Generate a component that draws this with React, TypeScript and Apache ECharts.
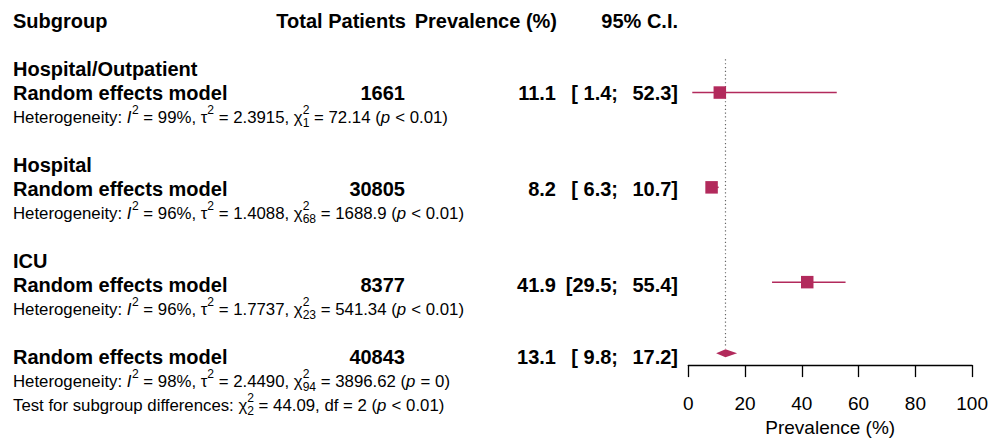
import React, { useEffect, useRef } from 'react';
import * as echarts from 'echarts';

// Subgroup meta-analysis results (random effects)
const subgroupNames = ['Hospital/Outpatient', 'Hospital', 'ICU'];
const subgroupTotals = [1661, 30805, 8377];
const subgroupPrev = [11.1, 8.2, 41.9];
const subgroupLower = [1.4, 6.3, 29.5];
const subgroupUpper = [52.3, 10.7, 55.4];
const subgroupI2 = ['99%', '96%', '96%'];
const subgroupTau2 = ['2.3915', '1.4088', '1.7737'];
const subgroupDf = ['1', '68', '23'];
const subgroupQ = ['72.14', '1688.9', '541.34'];
const subgroupP = ['< 0.01', '< 0.01', '< 0.01'];

// Pooled estimate
const overallTotal = 40843;
const overallPrev = 13.1;
const overallLower = 9.8;
const overallUpper = 17.2;
const overallI2 = '98%';
const overallTau2 = '2.4490';
const overallDf = '94';
const overallQ = '3896.62';
const overallP = '= 0';

// Test for subgroup differences
const testDf = '2';
const testQ = '44.09';
const testP = '< 0.01';

const xTicks = [0, 20, 40, 60, 80, 100];

const MARK = '#B22A5C';
const FONT = '"Liberation Sans", Arial, Helvetica, sans-serif';
const BOLD = 20;
const NORM = 16.8;
const LEFT = 13;
const lineY = (k: number) => 21 + 24 * k;

let measureCtx: CanvasRenderingContext2D | null = null;
function measure(text: string, size: number, weight = 'normal', style = 'normal') {
  if (!measureCtx) measureCtx = document.createElement('canvas').getContext('2d');
  measureCtx!.font = `${style} ${weight} ${size}px ${FONT}`;
  return measureCtx!.measureText(text).width;
}

type Seg = string | { it: string } | { sup: string; sub?: string };

function txt(text: string, x: number, y: number, opts: any = {}) {
  return {
    type: 'text',
    x,
    y,
    silent: true,
    style: {
      text,
      fontFamily: FONT,
      fontSize: opts.size ?? NORM,
      fontWeight: opts.weight ?? 'normal',
      fontStyle: opts.style ?? 'normal',
      fill: '#000',
      align: opts.align ?? 'left',
      verticalAlign: 'middle',
    },
  };
}

// Lays out a line of mixed text with italic symbols and super/subscripts
function formula(segs: Seg[], x0: number, y: number) {
  const out: any[] = [];
  let x = x0;
  const small = NORM * 0.72;
  for (const s of segs) {
    if (typeof s === 'string') {
      out.push(txt(s, x, y));
      x += measure(s, NORM);
    } else if ('it' in s) {
      out.push(txt(s.it, x, y, { style: 'italic' }));
      x += measure(s.it, NORM, 'normal', 'italic') + 0.5;
    } else {
      let w = 0;
      out.push(txt(s.sup, x, y - NORM * 0.44, { size: small }));
      w = measure(s.sup, small);
      if (s.sub) {
        out.push(txt(s.sub, x, y + NORM * 0.36, { size: small }));
        w = Math.max(w, measure(s.sub, small));
      }
      x += w;
    }
  }
  return out;
}

function hetSegs(i2: string, tau2: string, df: string, q: string, p: string): Seg[] {
  return [
    'Heterogeneity: ',
    { it: 'I' },
    { sup: '2' },
    ` = ${i2}, τ`,
    { sup: '2' },
    ` = ${tau2}, χ`,
    { sup: '2', sub: df },
    ` = ${q} (`,
    { it: 'p' },
    ` ${p})`,
  ];
}

const TOTAL_X = 405;
const PREV_X = 556;
const LO_X = 618;
const HI_X = 678;

function ciLowText(v: number) {
  return v < 10 ? `[ ${v.toFixed(1)};` : `[${v.toFixed(1)};`;
}

function buildGraphics() {
  const g: any[] = [];
  const b = { size: BOLD, weight: 'bold' };
  const y0 = lineY(0);
  g.push(txt('Subgroup', LEFT, y0, b));
  g.push(txt('Total Patients', TOTAL_X + 1, y0, { ...b, align: 'right' }));
  g.push(txt('Prevalence (%)', PREV_X + 1, y0, { ...b, align: 'right' }));
  g.push(txt('95% C.I.', HI_X, y0, { ...b, align: 'right' }));

  const rowLines = (k: number, total: number, prev: number, lo: number, hi: number) => {
    const y = lineY(k);
    g.push(txt('Random effects model', LEFT, y, b));
    g.push(txt(String(total), TOTAL_X, y, { ...b, align: 'right' }));
    g.push(txt(prev.toFixed(1), PREV_X, y, { ...b, align: 'right' }));
    g.push(txt(ciLowText(lo), LO_X, y, { ...b, align: 'right' }));
    g.push(txt(`${hi.toFixed(1)}]`, HI_X, y, { ...b, align: 'right' }));
  };

  subgroupNames.forEach((name, i) => {
    const k = 2 + 4 * i;
    g.push(txt(name, LEFT, lineY(k), b));
    rowLines(k + 1, subgroupTotals[i], subgroupPrev[i], subgroupLower[i], subgroupUpper[i]);
    g.push(
      ...formula(
        hetSegs(subgroupI2[i], subgroupTau2[i], subgroupDf[i], subgroupQ[i], subgroupP[i]),
        LEFT,
        lineY(k + 2)
      )
    );
  });

  rowLines(14, overallTotal, overallPrev, overallLower, overallUpper);
  g.push(...formula(hetSegs(overallI2, overallTau2, overallDf, overallQ, overallP), LEFT, lineY(15)));
  g.push(
    ...formula(
      [
        'Test for subgroup differences: χ',
        { sup: '2', sub: testDf },
        ` = ${testQ}, df = ${testDf} (`,
        { it: 'p' },
        ` ${testP})`,
      ],
      LEFT,
      lineY(16)
    )
  );
  return g;
}

export default function App() {
  const ref = useRef<HTMLDivElement>(null);

  useEffect(() => {
    if (!ref.current) return;
    const chart = echarts.init(ref.current, undefined, { renderer: 'svg' });

    const subgroupData = subgroupPrev.map((v, i) => [v, subgroupLower[i], subgroupUpper[i], 3 + 4 * i]);

    chart.setOption({
      animation: false,
      backgroundColor: '#fff',
      grid: { left: 688.3, right: 18.3, top: lineY(1.5), bottom: 442 - lineY(14.5), containLabel: false },
      xAxis: {
        type: 'value',
        min: 0,
        max: 100,
        interval: 20,
        name: 'Prevalence (%)',
        nameLocation: 'middle',
        nameGap: 49,
        nameTextStyle: { fontFamily: FONT, fontSize: 19, color: '#000' },
        axisLine: { show: true, lineStyle: { color: '#000', width: 1.3 } },
        axisTick: { show: true, length: 12, lineStyle: { color: '#000', width: 1.3 } },
        axisLabel: { fontFamily: FONT, fontSize: 19, color: '#000', margin: 29 },
        splitLine: { show: false },
        data: xTicks,
      },
      yAxis: {
        type: 'value',
        min: 1.5,
        max: 14.5,
        inverse: true,
        show: false,
        splitLine: { show: false },
      },
      series: [
        {
          type: 'line',
          data: [
            [overallPrev, 1.6],
            [overallPrev, 13.8],
          ],
          symbol: 'none',
          lineStyle: { color: '#666', width: 1.2, type: [1.2, 2.6] },
          silent: true,
          z: 1,
        },
        {
          type: 'custom',
          data: subgroupData,
          silent: true,
          z: 2,
          renderItem: (_params: any, api: any) => {
            const y = api.value(3);
            const c = api.coord([api.value(0), y]);
            const lo = api.coord([api.value(1), y]);
            const hi = api.coord([api.value(2), y]);
            const s = 12.5;
            return {
              type: 'group',
              children: [
                {
                  type: 'line',
                  shape: { x1: lo[0], y1: lo[1], x2: hi[0], y2: hi[1] },
                  style: { stroke: MARK, lineWidth: 1.5 },
                },
                {
                  type: 'rect',
                  shape: { x: c[0] - s / 2, y: c[1] - s / 2, width: s, height: s },
                  style: { fill: MARK },
                },
              ],
            };
          },
        },
        {
          type: 'custom',
          data: [[overallPrev, overallLower, overallUpper, 14]],
          silent: true,
          z: 2,
          renderItem: (_params: any, api: any) => {
            const y = api.value(3);
            const c = api.coord([api.value(0), y]);
            const lo = api.coord([api.value(1), y]);
            const hi = api.coord([api.value(2), y]);
            const h = 4;
            return {
              type: 'polygon',
              shape: {
                points: [
                  [lo[0], lo[1]],
                  [c[0], c[1] - h],
                  [hi[0], hi[1]],
                  [c[0], c[1] + h],
                ],
              },
              style: { fill: MARK },
            };
          },
        },
      ],
      graphic: buildGraphics(),
    });

    return () => chart.dispose();
  }, []);

  return (
    <div
      ref={ref}
      style={{ position: 'fixed', left: 0, top: 0, width: 991, height: 442, background: '#fff' }}
    />
  );
}
